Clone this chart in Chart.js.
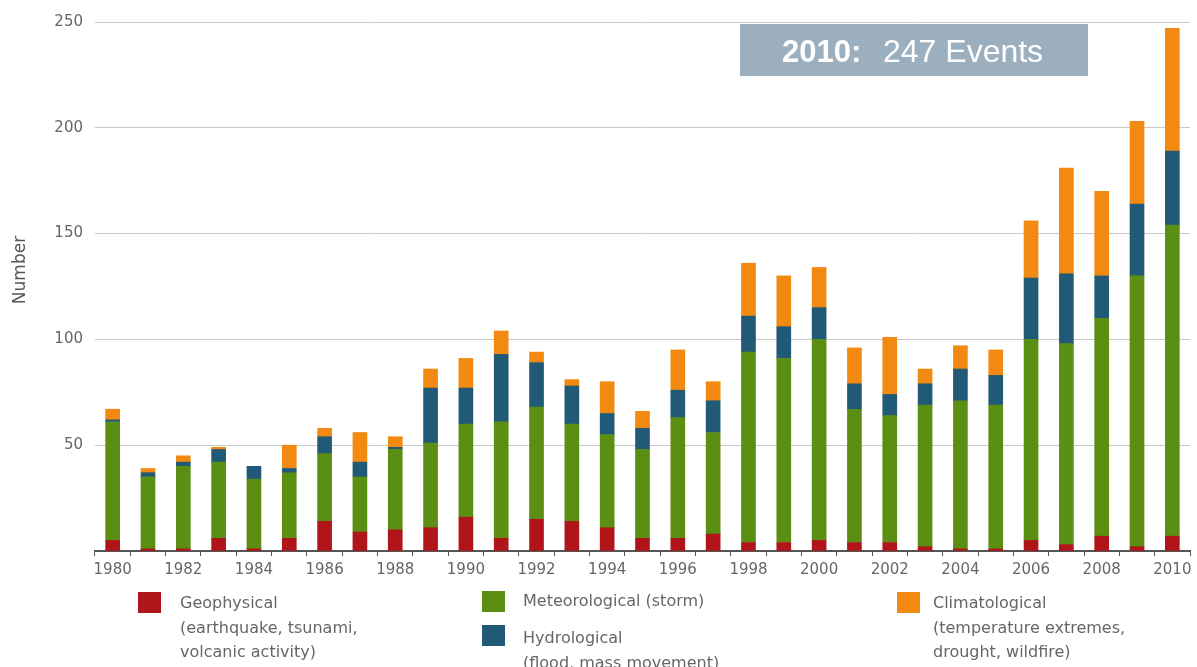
<!DOCTYPE html>
<html>
<head>
<meta charset="utf-8">
<script src="https://cdn.jsdelivr.net/npm/chart.js@4"></script>
<style>
  body { margin: 0; background: #fff; font-family: "DejaVu Sans", sans-serif; }
  #wrap { position: relative; width: 1197px; height: 667px; }
  .lg { position: absolute; color: #666; font-size: 16px; line-height: 24.5px; white-space: nowrap; }
  .sw { position: absolute; width: 23px; height: 21px; }
</style>
</head>
<body>
<div id="wrap">
  <canvas id="myChart" width="1197" height="667"></canvas>
  <!-- legend -->
  <div class="sw" style="left:138px;top:592px;background:#b0151a"></div>
  <div class="lg" style="left:180px;top:591px">Geophysical<br>(earthquake, tsunami,<br>volcanic activity)</div>
  <div class="sw" style="left:482px;top:591px;background:#5a8f14"></div>
  <div class="lg" style="left:523px;top:589px">Meteorological (storm)</div>
  <div class="sw" style="left:482px;top:625px;background:#215a76"></div>
  <div class="lg" style="left:523px;top:626px">Hydrological<br>(flood, mass movement)</div>
  <div class="sw" style="left:897px;top:592px;background:#f28a12"></div>
  <div class="lg" style="left:933px;top:591px">Climatological<br>(temperature extremes,<br>drought, wildfire)</div>
</div>
<script>
var years = ["1980","1981","1982","1983","1984","1985","1986","1987","1988","1989",
  "1990","1991","1992","1993","1994","1995","1996","1997","1998","1999",
  "2000","2001","2002","2003","2004","2005","2006","2007","2008","2009","2010"];
var geophysical = [5,1,1,6,1,6,14,9,10,11,16,6,15,14,11,6,6,8,4,4,5,4,4,2,1,1,5,3,7,2,7];
var meteorological = [56,34,39,36,33,31,32,26,38,40,44,55,53,46,44,42,57,48,90,87,95,63,60,67,70,68,95,95,103,128,147];
var hydrological = [1,2,2,6,6,2,8,7,1,26,17,32,21,18,10,10,13,15,17,15,15,12,10,10,15,14,29,33,20,34,35];
var climatological = [5,2,3,1,0,11,4,14,5,9,14,11,5,3,15,8,19,9,25,24,19,17,27,7,11,12,27,50,40,39,58];
var yTicks = [0, 50, 100, 150, 200, 250];

// total of the last year for the grey box
var last = years.length - 1;
var lastTotal = geophysical[last] + meteorological[last] + hydrological[last] + climatological[last];

// grey box top right + y axis title
const extras = {
  id: 'extras',
  afterDraw(chart) {
    const c = chart.ctx;
    c.save();
    c.fillStyle = '#9cafbf';
    c.fillRect(740, 24, 348, 52);
    c.fillStyle = '#fff';
    c.textBaseline = 'alphabetic';
    c.font = 'bold 31px "Liberation Sans", Arial, sans-serif';
    const t1 = years[last] + ':';
    c.fillText(t1, 782, 62);
    c.font = '32px "Liberation Sans", Arial, sans-serif';
    c.fillText(lastTotal + ' Events', 883, 62);
    c.restore();

    c.save();
    c.translate(21, 270);
    c.rotate(-Math.PI / 2);
    c.fillStyle = '#555';
    c.font = '17px "DejaVu Sans", sans-serif';
    c.textAlign = 'center';
    c.textBaseline = 'middle';
    c.fillText('Number', 0, 0);
    c.restore();
  }
};

new Chart(document.getElementById('myChart'), {
  type: 'bar',
  data: {
    labels: years,
    datasets: [
      { label: 'Geophysical', data: geophysical, backgroundColor: '#b0151a' },
      { label: 'Meteorological', data: meteorological, backgroundColor: '#5a8f14' },
      { label: 'Hydrological', data: hydrological, backgroundColor: '#215a76' },
      { label: 'Climatological', data: climatological, backgroundColor: '#f28a12' }
    ]
  },
  options: {
    responsive: false,
    animation: false,
    barThickness: 14,
    layout: { padding: { top: 22, right: 7 } },
    plugins: {
      legend: { display: false },
      tooltip: { enabled: false }
    },
    scales: {
      x: {
        stacked: true,
        afterFit: function (s) { s.height = 116; },
        border: { display: true, color: '#555', width: 2 },
        grid: { offset: true, drawOnChartArea: false, drawTicks: true, tickLength: 5, color: '#555' },
        ticks: {
          autoSkip: false, maxRotation: 0, color: '#666', padding: 5,
          font: { size: 15, family: '"DejaVu Sans", sans-serif' },
          callback: function (v, i) { return i % 2 === 0 ? years[i] : ''; }
        }
      },
      y: {
        stacked: true,
        min: yTicks[0],
        max: yTicks[yTicks.length - 1],
        afterFit: function (s) { s.width = 95; },
        afterBuildTicks: function (s) { s.ticks = yTicks.map(function (v) { return { value: v }; }); },
        border: { display: false },
        grid: { color: '#c8c8c8', drawTicks: false },
        ticks: {
          color: '#666', padding: 12,
          font: { size: 15, family: '"DejaVu Sans", sans-serif' },
          callback: function (v) { return v === 0 ? '' : v; }
        }
      }
    }
  },
  plugins: [extras]
});
</script>
</body>
</html>
